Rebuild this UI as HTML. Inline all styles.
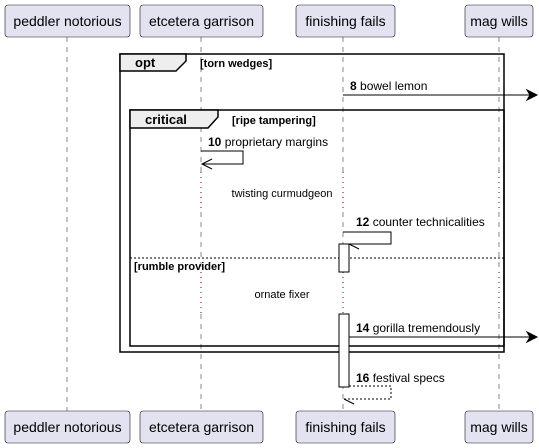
<!DOCTYPE html>
<html><head><meta charset="utf-8"><style>
body{margin:0;background:#fff}
svg{display:block}
text{font-family:"Liberation Sans",sans-serif}
</style></head><body>
<svg width="539" height="448" viewBox="0 0 539 448" xmlns="http://www.w3.org/2000/svg">
<g stroke="#888" stroke-width="1" stroke-dasharray="5,5">
<line x1="67" y1="37" x2="67" y2="411"/>
<line x1="201" y1="37" x2="201" y2="172"/><line x1="201" y1="212" x2="201" y2="272"/><line x1="201" y1="314" x2="201" y2="411"/>
<line x1="343" y1="37" x2="343" y2="172"/><line x1="343" y1="212" x2="343" y2="272"/><line x1="343" y1="314" x2="343" y2="411"/>
<line x1="499" y1="37" x2="499" y2="172"/><line x1="499" y1="212" x2="499" y2="272"/><line x1="499" y1="314" x2="499" y2="411"/>
</g>
<g stroke="#800020" stroke-width="1" stroke-dasharray="1,4">
<line x1="201" y1="172" x2="201" y2="212"/><line x1="343" y1="172" x2="343" y2="212"/><line x1="499" y1="172" x2="499" y2="212"/>
<line x1="201" y1="272" x2="201" y2="314"/><line x1="343" y1="272" x2="343" y2="314"/><line x1="499" y1="272" x2="499" y2="314"/>
</g>
<g fill="#e2e2f0" stroke="#181818" stroke-width="0.6">
<rect x="5" y="5" width="125" height="32" rx="3"/><rect x="140" y="5" width="123" height="32" rx="3"/>
<rect x="296" y="5" width="99" height="32" rx="3"/><rect x="465" y="5" width="68" height="32" rx="3"/>
<rect x="5" y="411" width="125" height="32" rx="3"/><rect x="140" y="411" width="123" height="32" rx="3"/>
<rect x="296" y="411" width="99" height="32" rx="3"/><rect x="465" y="411" width="68" height="32" rx="3"/>
</g>
<g font-size="14" fill="#000" text-anchor="middle">
<text x="67.5" y="26">peddler notorious</text><text x="201.5" y="26">etcetera garrison</text>
<text x="345.5" y="26">finishing fails</text><text x="499" y="26">mag wills</text>
<text x="67.5" y="432">peddler notorious</text><text x="201.5" y="432">etcetera garrison</text>
<text x="345.5" y="432">finishing fails</text><text x="499" y="432">mag wills</text>
</g>
<!-- opt frame -->
<rect x="120" y="54" width="384" height="298" fill="none" stroke="#000" stroke-width="1.5"/>
<path d="M120 54 H186 V61 L176 71 H120 Z" fill="#eee" stroke="#000" stroke-width="1.5"/>
<text x="135" y="67" font-size="13" font-weight="bold">opt</text>
<text x="200" y="67" font-size="11" font-weight="bold">[torn wedges]</text>
<!-- critical frame -->
<rect x="130" y="110" width="374" height="236" fill="none" stroke="#000" stroke-width="1.5"/>
<path d="M130 110 H218 V117 L208 128 H130 Z" fill="#eee" stroke="#000" stroke-width="1.5"/>
<text x="145" y="124" font-size="13" font-weight="bold">critical</text>
<text x="232" y="124" font-size="11" font-weight="bold">[ripe tampering]</text>
<line x1="130" y1="258" x2="504" y2="258" stroke="#000" stroke-dasharray="2,2"/>
<text x="134" y="270" font-size="11" font-weight="bold">[rumble provider]</text>
<!-- activations -->
<rect x="339" y="244" width="10" height="28" fill="#fff" stroke="#000"/>
<rect x="339" y="314" width="10" height="73" fill="#fff" stroke="#000"/>
<!-- messages -->
<g stroke="#000" fill="none" stroke-width="1">
<line x1="343" y1="95" x2="537" y2="95"/><path d="M527 90 L537 95 L527 100 L530 95 Z" fill="#000"/>
<path d="M201 151 H243 V164 H202"/><path d="M212 159 L202 164 L212 169" />
<path d="M343 232 H391 V244 H349"/><path d="M359 249 L349 244"/>
<line x1="349" y1="337" x2="537" y2="337"/><path d="M527 332 L537 337 L527 342 L530 337 Z" fill="#000"/>
<path d="M349 386 H391 V399 H344" stroke-dasharray="2,2"/><path d="M354 404 L344 399"/>
</g>
<g font-size="12" fill="#000">
<text x="350" y="90"><tspan font-weight="bold">8</tspan> bowel lemon</text>
<text x="208" y="146"><tspan font-weight="bold">10</tspan> proprietary margins</text>
<text x="356" y="226"><tspan font-weight="bold">12</tspan> counter technicalities</text>
<text x="356" y="332"><tspan font-weight="bold">14</tspan> gorilla tremendously</text>
<text x="356" y="382"><tspan font-weight="bold">16</tspan> festival specs</text>
</g>
<g font-size="11" fill="#000" text-anchor="middle">
<text x="282" y="197">twisting curmudgeon</text>
<text x="282" y="298">ornate fixer</text>
</g>
</svg>
</body></html>
